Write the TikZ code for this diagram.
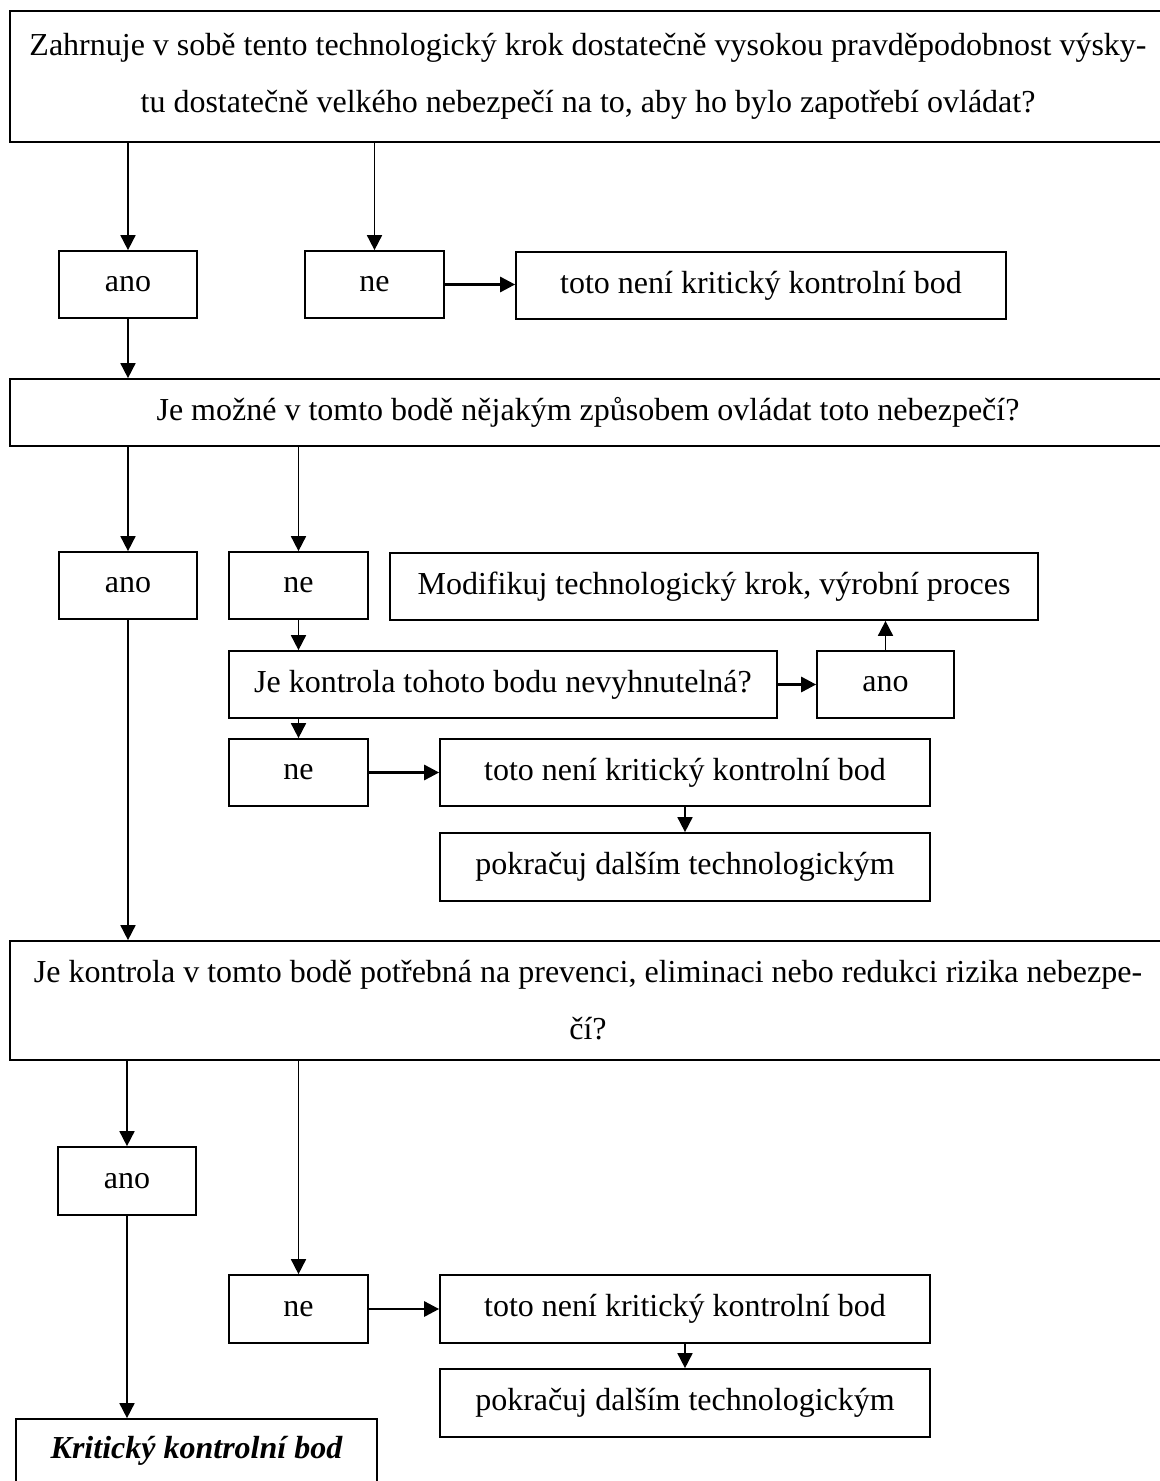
\documentclass[tikz,border=0pt]{standalone}
\usepackage{fontspec}
\setmainfont{Liberation Serif}
\usetikzlibrary{arrows.meta}
\begin{document}
\begin{tikzpicture}[x=0.5pt,y=-0.5pt,
  box/.style={draw, line width=0.85pt, inner sep=0pt, align=center,
    font={\fontsize{16}{28.5}\selectfont}},
  wd/.style={minimum width={#1*0.5pt}},
  ht/.style={minimum height={#1*0.5pt}},
  conn/.style={line width=0.85pt, -{Triangle[length=7.5pt,width=7.5pt]}},
  hconn/.style={line width=1.4pt, -{Triangle[length=7.5pt,width=7.5pt]}}]
\useasboundingbox (0,0) rectangle (1160,1481);

\node[box,wd=1156,ht=131] (q1) at (588,76.5) {Zahrnuje v sobě tento technologický krok dostatečně vysokou pravděpodobnost výsky-\\tu dostatečně velkého nebezpečí na to, aby ho bylo zapotřebí ovládat?};
\node[box,wd=138,ht=67] (ano1) at (128,284.5) {ano};
\node[box,wd=139,ht=67] (ne1) at (374.5,284.5) {ne};
\node[box,wd=490,ht=67] (nk1) at (761,285.5) {toto není kritický kontrolní bod};
\node[box,wd=1156,ht=67] (q2) at (588,412.5) {Je možné v tomto bodě nějakým způsobem ovládat toto nebezpečí?};
\node[box,wd=138,ht=67] (ano2) at (128,585.5) {ano};
\node[box,wd=139,ht=67] (ne2) at (298.5,585.5) {ne};
\node[box,wd=648,ht=67] (mod) at (714,586.5) {Modifikuj technologický krok, výrobní proces};
\node[box,wd=548,ht=67] (q3) at (503,684.5) {Je kontrola tohoto bodu nevyhnutelná?};
\node[box,wd=137,ht=67] (ano3) at (885.5,684.5) {ano};
\node[box,wd=139,ht=67] (ne3) at (298.5,772.5) {ne};
\node[box,wd=490,ht=67] (nk2) at (685,772.5) {toto není kritický kontrolní bod};
\node[box,wd=490,ht=68] (pok1) at (685,867) {pokračuj dalším technologickým};
\node[box,wd=1156,ht=119] (q4) at (588,1000.5) {Je kontrola v tomto bodě potřebná na prevenci, eliminaci nebo redukci rizika nebezpe-\\čí?};
\node[box,wd=138,ht=68] (ano4) at (127,1181) {ano};
\node[box,wd=139,ht=68] (ne4) at (298.5,1309) {ne};
\node[box,wd=490,ht=68] (nk3) at (685,1309) {toto není kritický kontrolní bod};
\node[box,wd=490,ht=68] (pok2) at (685,1403) {pokračuj dalším technologickým};
\node[box,wd=361,ht=64,font={\fontsize{16}{19}\selectfont\bfseries\itshape}] (krit) at (196.5,1451) {Kritický kontrolní bod};

\draw[conn] (q1.south -| ano1) -- (ano1.north);
\draw[conn] (q1.south -| ne1) -- (ne1.north);
\draw[hconn] (ne1.east) -- (ne1.east -| nk1.west);
\draw[conn] (ano1.south) -- (ano1.south |- q2.north);
\draw[conn] (q2.south -| ano2) -- (ano2.north);
\draw[conn] (q2.south -| ne2) -- (ne2.north);
\draw[conn] (ne2.south) -- (ne2.south |- q3.north);
\draw[hconn] (q3.east) -- (ano3.west);
\draw[conn] (ano3.north) -- (ano3.north |- mod.south);
\draw[conn] (q3.south -| ne3) -- (ne3.north);
\draw[hconn] (ne3.east) -- (nk2.west);
\draw[conn] (nk2.south) -- (pok1.north);
\draw[conn] (ano2.south) -- (ano2.south |- q4.north);
\draw[conn] (q4.south -| ano4) -- (ano4.north);
\draw[conn] (q4.south -| ne4) -- (ne4.north);
\draw[hconn] (ne4.east) -- (nk3.west);
\draw[conn] (nk3.south) -- (pok2.north);
\draw[conn] (ano4.south) -- (ano4.south |- krit.north);
\end{tikzpicture}
\end{document}
